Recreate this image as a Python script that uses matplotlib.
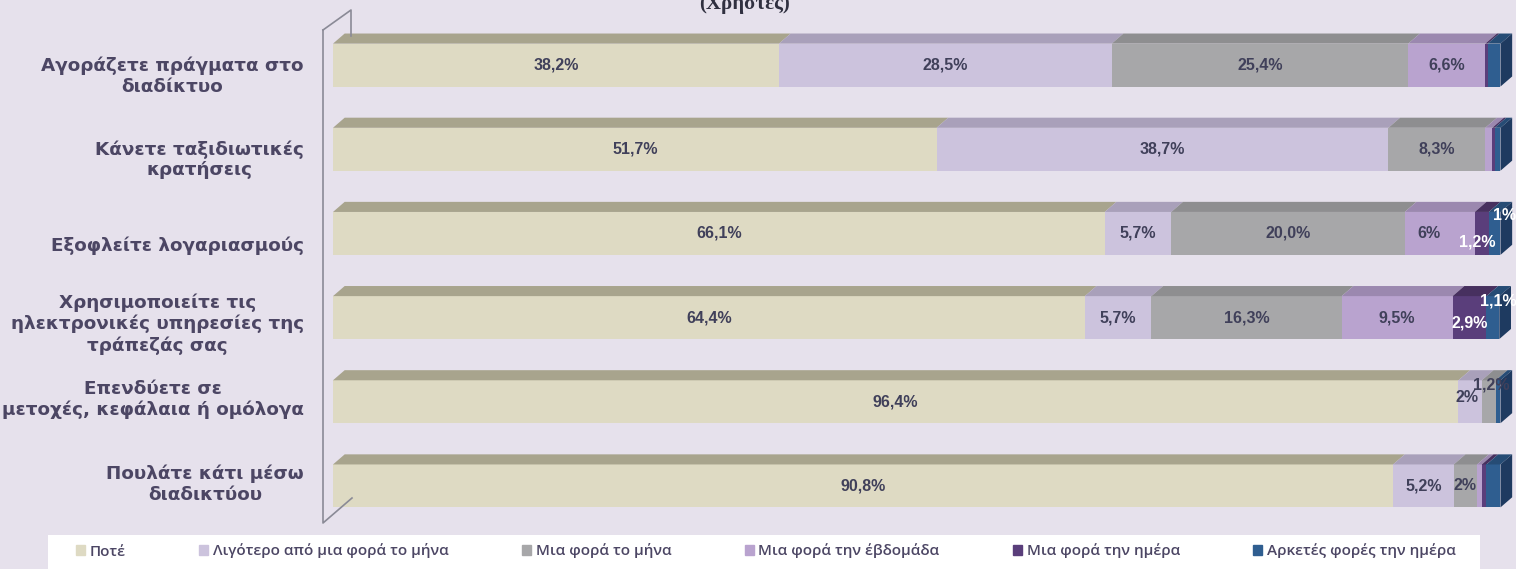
import matplotlib
matplotlib.use('Agg')
import numpy as np
import matplotlib.pyplot as plt
from matplotlib.patches import Polygon, Rectangle
from matplotlib.lines import Line2D

plt.rcParams['font.family'] = ['Liberation Sans', 'DejaVu Sans']

# data
questions = ['Αγοράζετε πράγματα στο\nδιαδίκτυο',
             'Κάνετε ταξιδιωτικές\nκρατήσεις',
             'Εξοφλείτε λογαριασμούς',
             'Χρησιμοποιείτε τις\nηλεκτρονικές υπηρεσίες της\nτράπεζάς σας',
             'Επενδύετε σε\nμετοχές, κεφάλαια ή ομόλογα',
             'Πουλάτε κάτι μέσω\nδιαδικτύου']
series = ['Ποτέ', 'Λιγότερο από μια φορά το μήνα', 'Μια φορά το μήνα',
          'Μια φορά την έβδομάδα', 'Μια φορά την ημέρα', 'Αρκετές φορές την ημέρα']
never = [38.2, 51.7, 66.1, 64.4, 96.4, 90.8]
less_monthly = [28.5, 38.7, 5.7, 5.7, 2.0, 5.2]
monthly = [25.4, 8.3, 20.0, 16.3, 1.2, 2.0]
weekly = [6.6, 0.6, 6.0, 9.5, 0.0, 0.4]
daily = [0.2, 0.2, 1.2, 2.9, 0.0, 0.4]
several_daily = [1.1, 0.5, 1.0, 1.1, 0.4, 1.2]
value_labels = [['38,2%', '28,5%', '25,4%', '6,6%', '', ''],
                ['51,7%', '38,7%', '8,3%', '', '', ''],
                ['66,1%', '5,7%', '20,0%', '6%', '1,2%', '1%'],
                ['64,4%', '5,7%', '16,3%', '9,5%', '2,9%', '1,1%'],
                ['96,4%', '2%', '1,2%', '', '', ''],
                ['90,8%', '5,2%', '2%', '', '', '']]

# styles
front = ['#DEDAC3', '#CCC3DD', '#A7A7A9', '#B9A3CF', '#5A3E7B', '#2F5E90']
top = ['#A8A48D', '#A9A0BA', '#8E8E90', '#9B88AF', '#47305F', '#264C75']
side = '#1E3A60'
txt = '#40405A'
lab_col = '#4C4664'
bg = '#E6E1EC'
# vertical shift (fraction of a row, down) of each category label against its bar
label_shift = [0.095, 0.085, 0.12, 0.035, -0.07, -0.06]
# label offsets in points for small segments (row, seg): (dx, dy, color)
special = {(2, 3): (-8, 0, txt), (2, 4): (-3, -6, 'white'), (2, 5): (7, 13, 'white'),
           (3, 4): (0, -4, 'white'), (3, 5): (4, 12, 'white'),
           (4, 1): (-2, 3, txt), (4, 2): (2, 12, txt)}

W, H, dpi = 1516, 569, 100
fig = plt.figure(figsize=(W / dpi, H / dpi), dpi=dpi, facecolor=bg)
ax = fig.add_axes([333 / W, 1 - 528 / H, 1185 / W, 505 / H])
ax.set_facecolor(bg)
ax.set_xlim(0, 101.5)
ax.set_ylim(5.5, -0.5)

data = np.array([never, less_monthly, monthly, weekly, daily, several_daily]).T
h = 0.51
dx = 1.0
dy = 0.12
for i in range(len(questions)):
    left = 0.0
    for j in range(data.shape[1]):
        w = data[i, j]
        if w <= 0:
            continue
        ax.barh(i, w, left=left, height=h, color=front[j], edgecolor='none', zorder=2)
        yt = i - h / 2
        ax.add_patch(Polygon([(left, yt), (left + w, yt), (left + w + dx, yt - dy),
                              (left + dx, yt - dy)], closed=True, color=top[j], lw=0, zorder=2))
        lab = value_labels[i][j]
        if lab:
            ox, oy, c = special.get((i, j), (0, 0, txt))
            ax.annotate(lab, (left + w / 2, i), xytext=(ox, oy), textcoords='offset points',
                        ha='center', va='center', fontsize=11.5, fontweight='bold', color=c, zorder=5)
        left += w
    yt, yb = i - h / 2, i + h / 2
    ax.add_patch(Polygon([(left, yb), (left, yt), (left + dx, yt - dy), (left + dx, yb - dy)],
                         closed=True, color=side, lw=0, zorder=3))

ax.set_yticks(np.arange(len(questions)) + np.array(label_shift))
ax.set_yticklabels(questions, fontsize=13.2, color=lab_col, fontweight='bold',
                   family=['DejaVu Sans'], multialignment='center', linespacing=1.2)
ax.tick_params(axis='y', length=0, pad=21)
ax.set_xticks([])
for s in ax.spines.values():
    s.set_visible(False)

# left wall of the 3d chart
wall = [(323, 30), (323, 523), (352, 498)]
fig.add_artist(Line2D([p[0] / W for p in wall], [1 - p[1] / H for p in wall], color='#8A8A96', lw=1.2))
fig.add_artist(Line2D([323 / W, 351 / W, 351 / W], [1 - 30 / H, 1 - 10 / H, 1 - 36 / H],
                      color='#8A8A96', lw=1.2))

# title (cut at top)
fig.text(745 / W, 1 - 4 / H, '(Χρήστες)', ha='center', va='center', fontsize=15,
         fontweight='bold', color='#303040', family=['Liberation Serif', 'DejaVu Serif'])

# legend
fig.add_artist(Rectangle((48 / W, 0), (1480 - 48) / W, 34 / H, transform=fig.transFigure,
                         facecolor='white', edgecolor='none'))
handles = [Rectangle((0, 0), 1, 1, color=c) for c in front]
fig.legend(handles, series, loc='center', bbox_to_anchor=(766 / W, 1 - 551 / H), ncol=6,
           frameon=False, handlelength=0.6, handleheight=0.6, handletextpad=0.3,
           columnspacing=4.8, labelcolor=lab_col,
           prop={'family': ['Open Sans', 'DejaVu Sans'], 'weight': 600, 'size': 11})

fig.savefig('out.png', dpi=dpi, facecolor=bg)
